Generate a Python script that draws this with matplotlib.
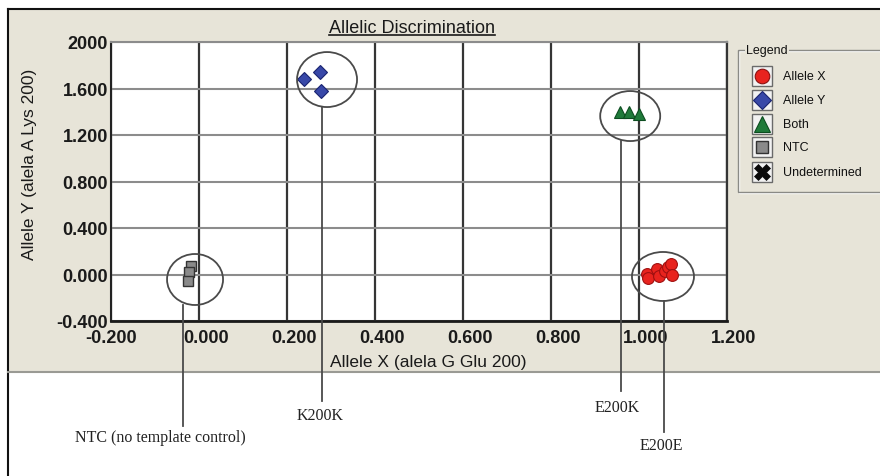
import matplotlib
matplotlib.use("Agg")
import matplotlib.pyplot as plt
from matplotlib.patches import Rectangle, Ellipse
from matplotlib.lines import Line2D
import matplotlib.transforms as mtransforms

# ---------------- data ----------------
allele_x_x = [1.018, 1.020, 1.041, 1.045, 1.059, 1.066, 1.073, 1.075]
allele_x_y = [0.004, -0.030, 0.047, -0.013, 0.030, 0.065, 0.090, -0.004]
allele_y_x = [0.239, 0.275, 0.277]
allele_y_y = [1.682, 1.742, 1.578]
both_x = [0.957, 0.977, 1.000]
both_y = [1.398, 1.398, 1.381]
ntc_x = [-0.018, -0.023, -0.025]
ntc_y = [0.073, 0.021, -0.056]

x_ticks = [-0.2, 0.0, 0.2, 0.4, 0.6, 0.8, 1.0, 1.2]
x_tick_labels = ["-0.200", "0.000", "0.200", "0.400", "0.600", "0.800", "1.000", "1.200"]
y_ticks = [-0.4, 0.0, 0.4, 0.8, 1.2, 1.6, 2.0]
y_tick_labels = ["-0.400", "0.000", "0.400", "0.800", "1.200", "1.600", "2000"]

legend_labels = ["Allele X", "Allele Y", "Both", "NTC", "Undetermined"]
cluster_labels = ["NTC (no template control)", "K200K", "E200K", "E200E"]
cluster_centers_x = [-0.009, 0.291, 0.980, 1.0545]
cluster_centers_y = [-0.043, 1.677, 1.363, -0.017]
leader_x = [-0.036, 0.2795, 0.959, 1.057]

title = "Allelic Discrimination"
xlabel = "Allele X (alela G Glu 200)"
ylabel = "Allele Y (alela A Lys 200)"

# ---------------- layout ----------------
W, H, DPI = 880, 477, 100
fig = plt.figure(figsize=(W / DPI, H / DPI), dpi=DPI)
fig.patch.set_facecolor("white")

def fx(px):
    return px / W

def fy(py):
    return 1 - py / H

BEIGE = "#e7e4d8"
SANS = ["Liberation Sans", "DejaVu Sans"]
SERIF = ["Liberation Serif", "DejaVu Serif"]

# panel background
fig.add_artist(Rectangle((fx(8), fy(373)), fx(880) - fx(8), fy(10) - fy(373),
                         transform=fig.transFigure, facecolor=BEIGE,
                         edgecolor="none", zorder=-10))
fig.add_artist(Line2D([fx(8), fx(880)], [fy(10), fy(10)], transform=fig.transFigure,
                      color="#111111", lw=1.5, zorder=-5))
fig.add_artist(Line2D([fx(8), fx(8)], [fy(10), fy(477)], transform=fig.transFigure,
                      color="#111111", lw=1.5, zorder=-5))
fig.add_artist(Line2D([fx(8), fx(880)], [fy(373), fy(373)], transform=fig.transFigure,
                      color="#9a9a94", lw=1.5, zorder=-5))

# axes
ax_l, ax_t, ax_r, ax_b = 111, 43, 727, 322
ax = fig.add_axes([fx(ax_l), fy(ax_b), fx(ax_r) - fx(ax_l), fy(ax_t) - fy(ax_b)])
ax.set_facecolor("white")
ax.set_xlim(-0.2, 1.2)
ax.set_ylim(-0.4, 2.0)
ax.set_xticks(x_ticks)
ax.set_xticklabels(x_tick_labels, fontsize=13, fontweight="bold", family=SANS, color="#1a1a1a")
ax.set_yticks(y_ticks)
ax.set_yticklabels(y_tick_labels, fontsize=13, fontweight="bold", family=SANS, color="#1a1a1a")
ax.tick_params(axis="both", length=0)
ax.tick_params(axis="x", pad=6)
ax.tick_params(axis="y", pad=2)
for lab in ax.get_xticklabels():
    dx = 0 if lab.get_text().startswith("-") else 5 / 72
    lab.set_transform(lab.get_transform() + mtransforms.ScaledTranslation(dx, 0, fig.dpi_scale_trans))

ax.grid(axis="x", color="#353535", lw=1.6, zorder=0)
ax.grid(axis="y", color="#8c8c8c", lw=1.5, zorder=0)
ax.set_axisbelow(True)
ax.spines["left"].set_color("#222222")
ax.spines["left"].set_linewidth(1.5)
ax.spines["bottom"].set_color("#1a1a1a")
ax.spines["bottom"].set_linewidth(2)
ax.spines["top"].set_color("#8c8c8c")
ax.spines["top"].set_linewidth(1.5)
ax.spines["right"].set_color("#353535")
ax.spines["right"].set_linewidth(1.6)

# data
ax.plot(ntc_x, ntc_y, ls="none", marker="s", ms=7, mfc="#8a8a8a", mec="#333333", mew=1, zorder=3)
ax.plot(allele_y_x, allele_y_y, ls="none", marker="D", ms=7.5, mfc="#3848a8", mec="#1a2470", mew=0.8, zorder=3)
ax.plot(both_x, both_y, ls="none", marker="^", ms=8.5, mfc="#1f7a3a", mec="#0c4d20", mew=0.8, zorder=3)
ax.plot(allele_x_x, allele_x_y, ls="none", marker="o", ms=8.5, mfc="#e8231e", mec="#a01010", mew=0.8, zorder=3)

# ellipses (sizes in pixels)
ell_sizes = [(56, 51), (60, 55), (60, 50), (62, 49)]
xpp = 1.4 / (ax_r - ax_l)
ypp = 2.4 / (ax_b - ax_t)
for cx, cy, (w, h) in zip(cluster_centers_x, cluster_centers_y, ell_sizes):
    ax.add_patch(Ellipse((cx, cy), w * xpp, h * ypp, fill=False, edgecolor="#4a4a4a",
                         lw=1.3, zorder=4))

# leader lines and labels
trans = mtransforms.blended_transform_factory(ax.transData, fig.transFigure)
line_top = [306, 108, 142, 302]
line_bot = [427, 402, 392, 433]
label_pos = [(160, 438), (320, 416), (617, 408), (661, 446)]
for lx, t, b, txt, (tx, ty) in zip(leader_x, line_top, line_bot, cluster_labels, label_pos):
    fig.add_artist(Line2D([lx, lx], [fy(t), fy(b)], transform=trans, color="#4a4a4a",
                          lw=1.3, zorder=5))
    fig.text(fx(tx), fy(ty), txt, ha="center", va="center", fontsize=11.5,
             family=SERIF, color="#222222")

# labels
fig.text(fx(428), fy(362), xlabel, ha="center", va="center", fontsize=12.5,
         family=SANS, color="#1a1a1a")
fig.text(fx(30), fy(164), ylabel, ha="center", va="center", fontsize=12.5,
         family=SANS, color="#1a1a1a", rotation=90)
ttl = fig.text(fx(412), fy(33), title, ha="center", va="baseline", fontsize=13,
               family=SANS, color="#1a1a1a")
renderer = fig.canvas.get_renderer()
bb = ttl.get_window_extent(renderer)
fig.add_artist(Line2D([bb.x0 / W, bb.x1 / W], [fy(35.5), fy(35.5)], transform=fig.transFigure,
                      color="#1a1a1a", lw=1.2))

# legend (group box)
lg_l, lg_t, lg_r, lg_b = 738, 51, 886, 193
fig.add_artist(Rectangle((fx(lg_l) + 1 / W, fy(lg_b) - 1 / H), fx(lg_r) - fx(lg_l), fy(lg_t) - fy(lg_b),
                         transform=fig.transFigure, fill=False, edgecolor="white", lw=1, zorder=6))
fig.add_artist(Rectangle((fx(lg_l), fy(lg_b)), fx(lg_r) - fx(lg_l), fy(lg_t) - fy(lg_b),
                         transform=fig.transFigure, fill=False, edgecolor="#8a8a86", lw=1, zorder=6))
fig.text(fx(746), fy(lg_t), "Legend", ha="left", va="center", fontsize=9, family=SANS,
         color="#111111", zorder=8,
         bbox=dict(boxstyle="square,pad=0.1", facecolor=BEIGE, edgecolor="none"))

icon_y = [77, 101, 125, 148, 173]
icon_specs = [
    dict(marker="o", ms=10.5, mfc="#e8231e", mec="#8a1010", mew=0.8),
    dict(marker="D", ms=9.5, mfc="#3848a8", mec="#1a2470", mew=0.8),
    dict(marker="^", ms=11, mfc="#1f7a3a", mec="#0c4d20", mew=0.8),
    dict(marker="s", ms=9, mfc="#8a8a8a", mec="#333333", mew=1),
    dict(marker="X", ms=12, mfc="#0a0a0a", mec="#0a0a0a", mew=0.5),
]
for yi, lab, spec in zip(icon_y, legend_labels, icon_specs):
    fig.add_artist(Rectangle((fx(752), fy(yi + 10)), fx(772) - fx(752), fy(yi - 10) - fy(yi + 10),
                             transform=fig.transFigure, facecolor="#f2f2f2",
                             edgecolor="#6a6a6a", lw=1, zorder=6))
    fig.add_artist(Line2D([fx(762)], [fy(yi)], transform=fig.transFigure, ls="none",
                          zorder=7, **spec))
    fig.text(fx(783), fy(yi), lab, ha="left", va="center", fontsize=9, family=SANS,
             color="#111111", zorder=8)

fig.savefig("out.png", dpi=DPI)
